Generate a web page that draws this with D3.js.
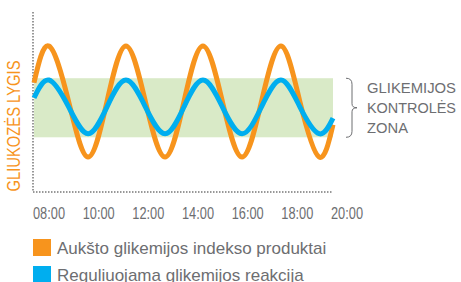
<!DOCTYPE html>
<html>
<head>
<meta charset="utf-8">
<script src="https://cdn.jsdelivr.net/npm/d3@7"></script>
<style>
body { margin: 0; background: #fff; }
text { font-family: "Liberation Sans", Arial, sans-serif; }
</style>
</head>
<body>
<div id="chart"></div>
<script>
var width = 461,
    height = 282;

// hours of day at peaks, troughs and crossings
var hours = [8, 8.6, 9.39, 10.17, 10.93, 11.69, 12.47, 13.26, 14.02, 14.78, 15.56, 16.35, 17.13, 17.91, 18.67, 19.44, 20];
var highGI = [6.05, 8.1, 5.0, 1.9, 5.0, 8.1, 5.0, 1.9, 5.0, 8.1, 5.0, 1.9, 5.0, 8.1, 5.0, 1.9, 3.7];
var regulated = [5.2, 6.2, 4.7, 3.2, 4.7, 6.2, 4.7, 3.2, 4.7, 6.2, 4.7, 3.2, 4.7, 6.2, 4.7, 3.2, 4.07];
var zone = [3.0, 6.3];
var tickLabels = ['08:00', '10:00', '12:00', '14:00', '16:00', '18:00', '20:00'];
var seriesNames = ['Aukšto glikemijos indekso produktai', 'Reguliuojama glikemijos reakcija'];
var zoneLabel = ['GLIKEMIJOS', 'KONTROLĖS', 'ZONA'];
var yTitle = 'GLIUKOZĖS LYGIS';

var orange = '#f7941d',
    blue = '#00aeef',
    grey = '#6d6e71';

var x = d3.scaleLinear().domain([8, 20]).range([34, 333]);
var y = d3.scaleLinear().domain([0, 10]).range([191, 12]);
var xLabels = d3.scalePoint().domain(tickLabels).range([33, 331]);

var svg = d3.select('#chart').append('svg')
    .attr('width', width)
    .attr('height', height);

// control zone band
svg.append('rect')
    .attr('x', x(8))
    .attr('width', x(20) - x(8))
    .attr('y', y(zone[1]))
    .attr('height', y(zone[0]) - y(zone[1]))
    .attr('fill', '#d9eac7');

// dotted axes
svg.append('line')
    .attr('x1', 33).attr('x2', 33)
    .attr('y1', y(10)).attr('y2', 192)
    .attr('stroke', '#777').attr('stroke-width', 1.5)
    .attr('stroke-dasharray', '1.5,1.5');
svg.append('line')
    .attr('x1', 33).attr('x2', x(20))
    .attr('y1', 192).attr('y2', 192)
    .attr('stroke', '#777').attr('stroke-width', 1.5)
    .attr('stroke-dasharray', '1.5,1.5');

var line = d3.line()
    .x(function(d, i) { return x(hours[i]); })
    .y(function(d) { return y(d); })
    .curve(d3.curveNatural);

svg.append('path')
    .attr('d', line(highGI))
    .attr('fill', 'none')
    .attr('stroke', orange)
    .attr('stroke-width', 5);

svg.append('path')
    .attr('d', line(regulated))
    .attr('fill', 'none')
    .attr('stroke', blue)
    .attr('stroke-width', 5);

// x tick labels (condensed look)
svg.selectAll('.tick-label')
    .data(tickLabels)
    .enter().append('text')
    .attr('class', 'tick-label')
    .attr('x', function(d) { return xLabels(d); })
    .attr('y', 219)
    .attr('font-size', 16)
    .attr('textLength', 32)
    .attr('lengthAdjust', 'spacingAndGlyphs')
    .attr('fill', grey)
    .text(function(d) { return d; });

// y title
svg.append('text')
    .attr('transform', 'translate(20,' + 126 + ') rotate(-90)')
    .attr('text-anchor', 'middle')
    .attr('font-size', 18)
    .attr('textLength', 131)
    .attr('lengthAdjust', 'spacingAndGlyphs')
    .attr('fill', orange)
    .text(yTitle);

// brace for zone
var bt = y(zone[1]), bb = y(zone[0]), bm = (bt + bb) / 2, bx = 346;
svg.append('path')
    .attr('d', 'M' + bx + ',' + bt + ' Q' + (bx + 6) + ',' + bt + ' ' + (bx + 6) + ',' + (bt + 6) +
        ' L' + (bx + 6) + ',' + (bm - 4) + ' Q' + (bx + 6) + ',' + bm + ' ' + (bx + 11) + ',' + bm +
        ' Q' + (bx + 6) + ',' + bm + ' ' + (bx + 6) + ',' + (bm + 4) +
        ' L' + (bx + 6) + ',' + (bb - 6) + ' Q' + (bx + 6) + ',' + bb + ' ' + bx + ',' + bb)
    .attr('fill', 'none')
    .attr('stroke', grey)
    .attr('stroke-width', 1);

svg.selectAll('.zone-label')
    .data(zoneLabel)
    .enter().append('text')
    .attr('class', 'zone-label')
    .attr('x', 367)
    .attr('y', function(d, i) { return 93 + i * 20; })
    .attr('font-size', 15)
    .attr('textLength', function(d, i) { return i < 2 ? 89 : 41; })
    .attr('lengthAdjust', 'spacingAndGlyphs')
    .attr('fill', grey)
    .text(function(d) { return d; });

// legend
var legend = svg.selectAll('.legend')
    .data(seriesNames)
    .enter().append('g')
    .attr('class', 'legend')
    .attr('transform', function(d, i) { return 'translate(33,' + (239 + i * 27) + ')'; });

legend.append('rect')
    .attr('width', 18)
    .attr('height', 17)
    .attr('fill', function(d, i) { return i ? blue : orange; });

legend.append('text')
    .attr('x', 24)
    .attr('y', 15)
    .attr('font-size', 17)
    .attr('fill', grey)
    .text(function(d) { return d; });
</script>
</body>
</html>
